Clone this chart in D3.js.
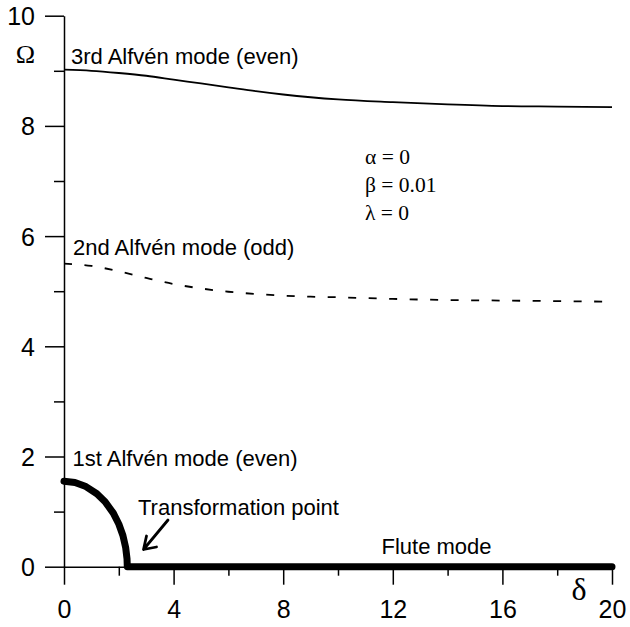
<!DOCTYPE html>
<html><head><meta charset="utf-8">
<script src="https://cdn.jsdelivr.net/npm/d3@7"></script>
<style>body{margin:0;background:#fff}svg{display:block}</style>
</head><body>
<script>
// Data
const delta = [0,1,2,3,4,5,6,7,8,9,10,12,14,16,18,20];
const mode3 = [9.02,9.00,8.96,8.91,8.84,8.77,8.70,8.63,8.57,8.52,8.48,8.43,8.39,8.36,8.35,8.34];
const mode2 = [5.50,5.46,5.36,5.24,5.13,5.05,4.99,4.95,4.92,4.90,4.89,4.86,4.84,4.83,4.82,4.81];
const mode1Delta = [0,0.4,0.8,1.2,1.5,1.8,2.0,2.15,2.25,2.3,2.31,20];
const mode1 = [1.55,1.527,1.454,1.324,1.18,0.972,0.775,0.567,0.35,0.145,0,0];
const xMajor = [0,4,8,12,16,20];
const xMinor = [2,6,10,14,18];
const yMajor = [0,2,4,6,8,10];
const yMinor = [1,3,5,7,9];
const params = ["α = 0","β = 0.01","λ = 0"];

const W=630,H=627;
const svg=d3.select("body").append("svg").attr("width",W).attr("height",H);
const x=d3.scaleLinear().domain([0,20]).range([64,612]);
const y=d3.scaleLinear().domain([0,10]).range([566.7,15.7]);
const sans="'Liberation Sans', Arial, sans-serif";
const serif="'Liberation Serif', 'Times New Roman', serif";

// axes
const yAx=svg.append("g").attr("transform",`translate(${x(0)},0)`)
  .call(d3.axisLeft(y).tickValues(yMajor).tickSize(19).tickSizeOuter(0).tickPadding(10).tickFormat(d3.format("d")));
svg.append("g").attr("transform",`translate(${x(0)},0)`)
  .call(d3.axisLeft(y).tickValues(yMinor).tickSize(10).tickSizeOuter(0).tickFormat(""))
  .select(".domain").remove();
const xAx=svg.append("g").attr("transform",`translate(0,${y(0)})`)
  .call(d3.axisBottom(x).tickValues(xMajor).tickSize(18).tickSizeOuter(0).tickPadding(16).tickFormat(d3.format("d")));
svg.append("g").attr("transform",`translate(0,${y(0)})`)
  .call(d3.axisBottom(x).tickValues(xMinor).tickSize(9).tickSizeOuter(0).tickFormat(""))
  .select(".domain").remove();
svg.selectAll(".tick line, .domain").attr("stroke","#000").attr("stroke-width",1.5);
svg.selectAll(".tick text").attr("font-family",sans).attr("font-size",25).attr("fill","#000");
yAx.selectAll(".tick text").attr("dy","0.36em");

// curves
const line=d3.line().x(d=>x(d[0])).y(d=>y(d[1])).curve(d3.curveMonotoneX);
svg.append("path").datum(delta.map((d,i)=>[d,mode3[i]])).attr("d",line)
  .attr("fill","none").attr("stroke","#000").attr("stroke-width",1.8);
svg.append("path").datum(delta.map((d,i)=>[d,mode2[i]])).attr("d",line)
  .attr("fill","none").attr("stroke","#000").attr("stroke-width",1.8).attr("stroke-dasharray","8,12.5");
const line1=d3.line().x(d=>x(d[0])).y(d=>y(d[1])).curve(d3.curveLinear);
svg.append("path").datum(mode1Delta.map((d,i)=>[d,mode1[i]])).attr("d",line1)
  .attr("fill","none").attr("stroke","#000").attr("stroke-width",7)
  .attr("stroke-linecap","round").attr("stroke-linejoin","round");

// labels
const lab=(t,px,py,fs,ff,anchor)=>svg.append("text").attr("x",px).attr("y",py)
  .attr("font-size",fs).attr("font-family",ff).attr("text-anchor",anchor||"start").attr("fill","#000").text(t);
lab("3rd Alfvén mode (even)",71,63.5,22,sans);
lab("2nd Alfvén mode (odd)",73,254.5,22,sans);
lab("1st Alfvén mode (even)",72.5,466,22,sans);
lab("Transformation point",138,515,22,sans);
lab("Flute mode",381.5,553.5,22,sans);
lab("Ω",25.5,63,26,serif,"middle");
lab("δ",579,600,32,serif,"middle");
params.forEach((p,i)=>lab(p,365,163.5+i*28,21.5,serif));

// arrow
svg.append("path").attr("d","M168,520 L143.5,549.5 M143.5,549.5 L146.5,536 M143.5,549.5 L156.5,547")
  .attr("fill","none").attr("stroke","#000").attr("stroke-width",2.8).attr("stroke-linecap","round");
</script>
</body></html>
